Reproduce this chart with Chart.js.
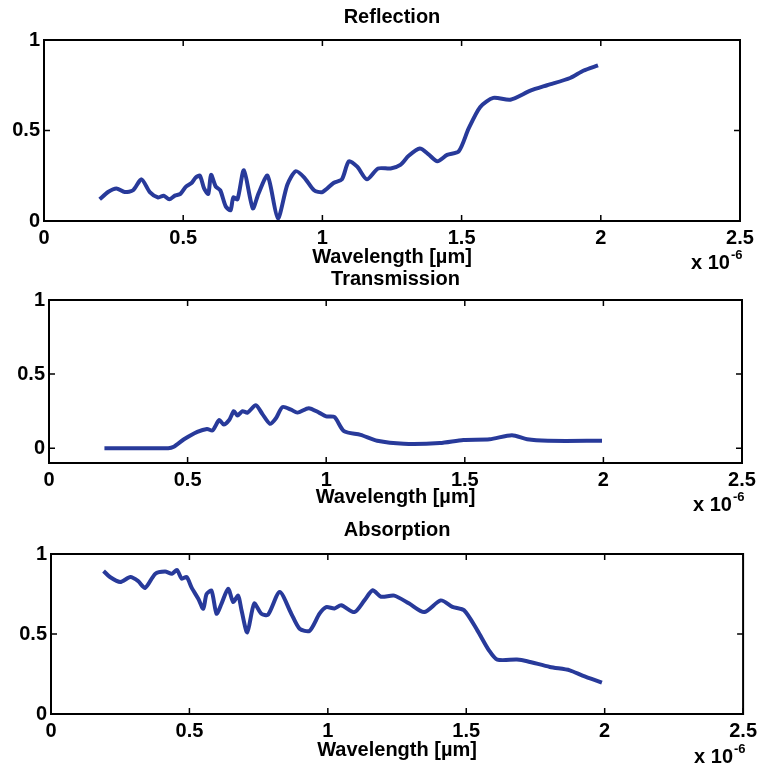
<!DOCTYPE html>
<html>
<head>
<meta charset="utf-8">
<script src="https://cdn.jsdelivr.net/npm/chart.js@4.4.0/dist/chart.umd.min.js"></script>
<style>
  body { margin: 0; background: #fff; }
  #wrap { position: relative; width: 762px; height: 768px; overflow: hidden; }
  canvas { position: absolute; left: 0; }
</style>
</head>
<body>
<div id="wrap">
  <canvas id="c1" style="top:0px" width="762" height="276"></canvas>
  <canvas id="c2" style="top:258px" width="762" height="265"></canvas>
  <canvas id="c3" style="top:505px" width="762" height="263"></canvas>
</div>
<script>
// ticks (wavelength in units of 1e-6 m)
var xTicks = [0, 0.5, 1, 1.5, 2, 2.5];
var yTicks = [0, 0.5, 1];

// Reflection
var wlRefl = [0.2, 0.23, 0.26, 0.29, 0.32, 0.35, 0.38, 0.41, 0.43, 0.45, 0.47, 0.49, 0.51, 0.53, 0.545, 0.56, 0.575, 0.59, 0.6, 0.617,
  0.633, 0.653, 0.67, 0.68, 0.695, 0.718, 0.75, 0.77, 0.803, 0.84, 0.874, 0.904, 0.935, 0.97, 1.0, 1.04, 1.07, 1.095, 1.125, 1.16,
  1.2, 1.245, 1.28, 1.31, 1.35, 1.38, 1.413, 1.448, 1.49, 1.525, 1.567, 1.614, 1.675, 1.747, 1.807, 1.89, 1.937, 1.99];
var refl = [0.12, 0.16, 0.18, 0.16, 0.17, 0.23, 0.16, 0.13, 0.14, 0.12, 0.14, 0.15, 0.19, 0.21, 0.24, 0.25, 0.18, 0.15, 0.255, 0.19,
  0.17, 0.08, 0.06, 0.13, 0.12, 0.28, 0.07, 0.15, 0.25, 0.015, 0.2, 0.275, 0.24, 0.17, 0.16, 0.21, 0.23, 0.33, 0.30, 0.23,
  0.29, 0.29, 0.31, 0.36, 0.40, 0.37, 0.33, 0.365, 0.385, 0.51, 0.63, 0.68, 0.67, 0.72, 0.75, 0.79, 0.83, 0.86];

// Transmission
var wlTrans = [0.2, 0.3, 0.43, 0.45, 0.487, 0.535, 0.57, 0.59, 0.614, 0.63, 0.65, 0.667, 0.68, 0.698, 0.716, 0.746, 0.77, 0.797, 0.818,
  0.842, 0.873, 0.896, 0.937, 0.974, 1.0, 1.03, 1.064, 1.124, 1.184, 1.28, 1.41, 1.495, 1.59, 1.67, 1.725, 1.8, 1.995];
var trans = [0, 0, 0, 0.01, 0.06, 0.11, 0.13, 0.12, 0.19, 0.16, 0.19, 0.25, 0.22, 0.25, 0.24, 0.29, 0.23, 0.165, 0.2,
  0.277, 0.26, 0.24, 0.27, 0.24, 0.215, 0.21, 0.115, 0.09, 0.05, 0.03, 0.035, 0.056, 0.06, 0.088, 0.06, 0.05, 0.05];

// Absorption
var wlAbs = [0.19, 0.213, 0.25, 0.287, 0.315, 0.34, 0.377, 0.412, 0.437, 0.455, 0.472, 0.49, 0.508, 0.532, 0.55, 0.562, 0.58, 0.598,
  0.616, 0.64, 0.658, 0.676, 0.688, 0.709, 0.734, 0.76, 0.784, 0.826, 0.868, 0.898, 0.934, 0.97, 0.994, 1.024, 1.048, 1.096,
  1.132, 1.162, 1.192, 1.24, 1.294, 1.348, 1.408, 1.45, 1.492, 1.54, 1.582, 1.612, 1.683, 1.72, 1.802, 1.874, 1.92, 1.99];
var absorp = [0.894, 0.856, 0.825, 0.856, 0.83, 0.788, 0.877, 0.89, 0.877, 0.9, 0.846, 0.856, 0.79, 0.72, 0.658, 0.75, 0.77, 0.627,
  0.69, 0.783, 0.7, 0.74, 0.65, 0.51, 0.69, 0.627, 0.62, 0.762, 0.627, 0.533, 0.52, 0.627, 0.668, 0.66, 0.68, 0.637,
  0.71, 0.773, 0.733, 0.74, 0.69, 0.637, 0.71, 0.67, 0.648, 0.523, 0.398, 0.34, 0.34, 0.33, 0.294, 0.273, 0.24, 0.196];

var lineColor = '#283a9a';
var fontFam = '"Liberation Sans", Arial, sans-serif';
var font = { family: fontFam, weight: 'bold', size: 20 };

// matlab-like box with inward ticks, plus the "x 10^-6" multiplier
var boxTicks = {
  id: 'boxTicks',
  afterDatasetsDraw: function(chart, args, opts) {
    var a = chart.chartArea, ctx = chart.ctx;
    var xs = chart.scales.x, ys = chart.scales.y;
    ctx.save();
    ctx.strokeStyle = '#000';
    ctx.lineWidth = 2;
    ctx.strokeRect(a.left, a.top, a.right - a.left, a.bottom - a.top);
    ctx.lineWidth = 1.5;
    ctx.beginPath();
    xTicks.forEach(function(v) {
      var p = xs.getPixelForValue(v);
      ctx.moveTo(p, a.bottom); ctx.lineTo(p, a.bottom - 6);
      ctx.moveTo(p, a.top); ctx.lineTo(p, a.top + 6);
    });
    yTicks.forEach(function(v) {
      var p = ys.getPixelForValue(v);
      ctx.moveTo(a.left, p); ctx.lineTo(a.left + 6, p);
      ctx.moveTo(a.right, p); ctx.lineTo(a.right - 6, p);
    });
    ctx.stroke();

    ctx.fillStyle = '#000';
    ctx.textBaseline = 'middle';
    ctx.textAlign = 'left';
    ctx.font = 'bold 20px ' + fontFam;
    var x0 = a.right - 49;
    ctx.fillText('x 10', x0, opts.expY);
    var w = ctx.measureText('x 10').width;
    ctx.font = 'bold 13px ' + fontFam;
    ctx.fillText('-6', x0 + w + 1, opts.expY - 8);
    ctx.restore();
  }
};

function makePanel(id, title, xs, ys, yMin, lay) {
  var pts = xs.map(function(x, i) { return { x: x, y: ys[i] }; });
  return new Chart(document.getElementById(id), {
    type: 'line',
    data: {
      datasets: [{
        data: pts,
        borderColor: lineColor,
        borderWidth: 4,
        pointRadius: 0,
        tension: 0.25,
        fill: false
      }]
    },
    options: {
      responsive: false,
      animation: false,
      layout: { padding: { left: 0, right: lay.right, top: 0, bottom: lay.bottom } },
      plugins: {
        legend: { display: false },
        tooltip: { enabled: false },
        title: {
          display: true, text: title, color: '#000', font: font, fullSize: false,
          padding: { top: lay.tTop, bottom: lay.tBottom }
        },
        boxTicks: { expY: lay.expY }
      },
      scales: {
        x: {
          type: 'linear', min: 0, max: 2.5,
          grid: { display: false, drawTicks: false },
          border: { display: false },
          afterBuildTicks: function(s) { s.ticks = xTicks.map(function(v) { return { value: v }; }); },
          afterFit: function(s) { s.height = lay.xH; },
          ticks: {
            color: '#000', font: font, padding: 5, maxRotation: 0, autoSkip: false,
            callback: function(v) { return String(v); }
          },
          title: { display: true, text: 'Wavelength [µm]', color: '#000', font: font, padding: 0 }
        },
        y: {
          type: 'linear', min: yMin, max: 1,
          grid: { display: false, drawTicks: false },
          border: { display: false },
          afterBuildTicks: function(s) { s.ticks = yTicks.map(function(v) { return { value: v }; }); },
          afterFit: function(s) { s.width = lay.yW; },
          ticks: {
            color: '#000', font: font, padding: 4,
            callback: function(v) { return String(v); }
          }
        }
      }
    },
    plugins: [boxTicks]
  });
}

makePanel('c1', 'Reflection', wlRefl, refl, 0,
  { yW: 44, right: 22, tTop: 5, tBottom: 11, xH: 48, bottom: 7, expY: 263 });
makePanel('c2', 'Transmission', wlTrans, trans, -0.1,
  { yW: 49, right: 20, tTop: 9, tBottom: 9, xH: 46, bottom: 14, expY: 247 });
makePanel('c3', 'Absorption', wlAbs, absorp, 0,
  { yW: 51, right: 15, tTop: 13, tBottom: 12, xH: 48, bottom: 6, expY: 252 });
</script>
</body>
</html>
